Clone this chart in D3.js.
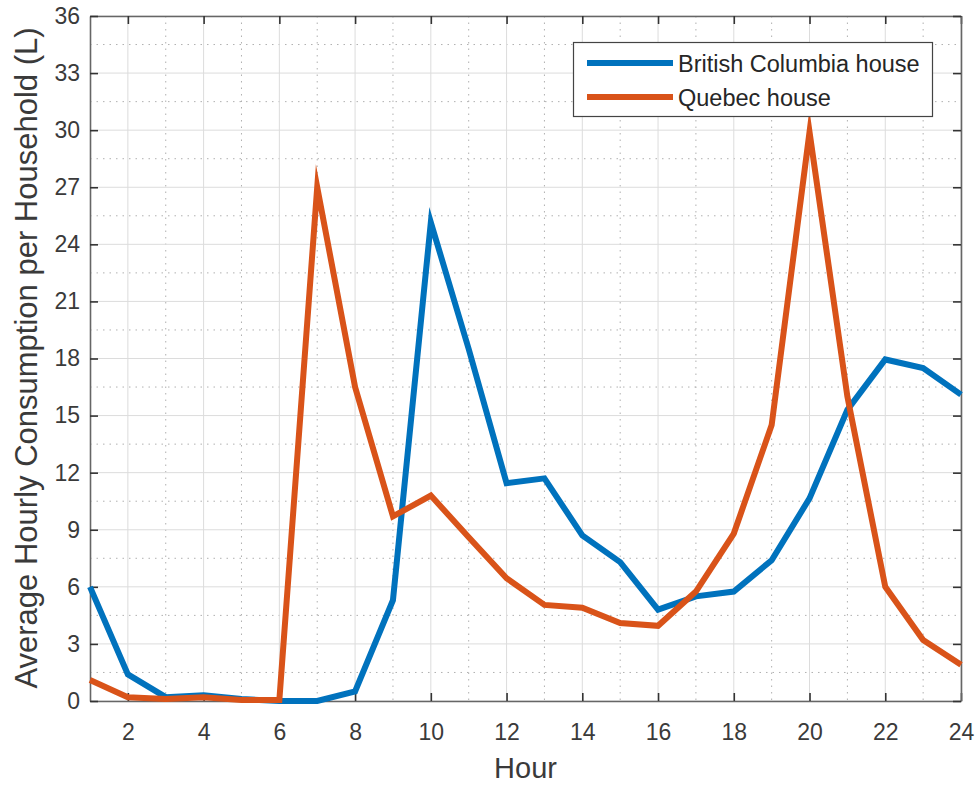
<!DOCTYPE html>
<html><head><meta charset="utf-8">
<script src="https://cdn.jsdelivr.net/npm/d3@7"></script>
<style>
html,body{margin:0;padding:0;background:#fff;}
svg{display:block;font-family:"Liberation Sans",Arial,Helvetica,sans-serif;}
</style></head>
<body><svg id="chart" width="977" height="786"></svg>
<script>
const hours = d3.range(1, 25);
const bcHouse = [6.0,1.4,0.2,0.3,0.1,0.0,0.0,0.5,5.3,25.15,18.5,11.45,11.7,8.7,7.3,4.8,5.5,5.75,7.4,10.65,15.3,17.95,17.5,16.1];
const quebecHouse = [1.1,0.2,0.1,0.2,0.05,0.05,27.0,16.5,9.7,10.8,8.6,6.45,5.05,4.9,4.1,3.95,5.75,8.8,14.5,29.9,16.0,6.0,3.2,1.9];
const seriesNames = ["British Columbia house","Quebec house"];
const seriesColors = ["#0072BD","#D95319"];
const xTicks = [2,4,6,8,10,12,14,16,18,20,22,24];
const xMinor = [3,5,7,9,11,13,15,17,19,21,23];
const yTicks = [0,3,6,9,12,15,18,21,24,27,30,33,36];
const yMinor = [1.5,4.5,7.5,10.5,13.5,16.5,19.5,22.5,25.5,28.5,31.5,34.5];

const svg = d3.select("#chart");
const L=90, R=961, T=16, B=701;
const x = d3.scaleLinear().domain([1,24]).range([L,R]);
const y = d3.scaleLinear().domain([0,36]).range([B,T]);

const g = svg.append("g");
// minor grid
g.selectAll(".xm").data(xMinor).join("line")
  .attr("x1",d=>x(d)).attr("x2",d=>x(d)).attr("y1",T).attr("y2",B)
  .attr("stroke","#b0b0b0").attr("stroke-width",1).attr("stroke-dasharray","1.5,5");
g.selectAll(".ym").data(yMinor).join("line")
  .attr("y1",d=>y(d)).attr("y2",d=>y(d)).attr("x1",L).attr("x2",R)
  .attr("stroke","#b0b0b0").attr("stroke-width",1).attr("stroke-dasharray","1.5,5");
// major grid
g.selectAll(".xg").data(xTicks).join("line")
  .attr("x1",d=>x(d)).attr("x2",d=>x(d)).attr("y1",T).attr("y2",B)
  .attr("stroke","#dcdcdc").attr("stroke-width",1);
g.selectAll(".yg").data(yTicks).join("line")
  .attr("y1",d=>y(d)).attr("y2",d=>y(d)).attr("x1",L).attr("x2",R)
  .attr("stroke","#dcdcdc").attr("stroke-width",1);

// axes with inward ticks
const axCol="#666";
const xb = svg.append("g").attr("transform",`translate(0,${B})`)
  .call(d3.axisBottom(x).tickValues(xTicks).tickSizeInner(-8).tickSizeOuter(0).tickPadding(23));
const xt = svg.append("g").attr("transform",`translate(0,${T})`)
  .call(d3.axisTop(x).tickValues(xTicks).tickSizeInner(-8).tickSizeOuter(0).tickFormat(""));
const yl = svg.append("g").attr("transform",`translate(${L},0)`)
  .call(d3.axisLeft(y).tickValues(yTicks).tickSizeInner(-8).tickSizeOuter(0).tickPadding(10));
const yr = svg.append("g").attr("transform",`translate(${R},0)`)
  .call(d3.axisRight(y).tickValues(yTicks).tickSizeInner(-8).tickSizeOuter(0).tickFormat(""));
[xb,xt,yl,yr].forEach(a=>{
  a.select(".domain").attr("stroke",axCol).attr("stroke-width",1.6);
  a.selectAll(".tick line").attr("stroke","#333").attr("stroke-width",1.6);
  a.selectAll(".tick text").attr("fill","#3a3a3a").style("font-size","23px")
   .style("font-family","'Liberation Sans',Arial,sans-serif");
});

// lines
const line = d3.line().x((d,i)=>x(hours[i])).y(d=>y(d));
[bcHouse, quebecHouse].forEach((s,k)=>{
  svg.append("path").datum(s).attr("d",line).attr("fill","none")
    .attr("stroke",seriesColors[k]).attr("stroke-width",6)
    .attr("stroke-linejoin","miter").attr("stroke-miterlimit",30);
});

// legend
const lg = svg.append("g");
lg.append("rect").attr("x",573.5).attr("y",42.5).attr("width",359).attr("height",74)
  .attr("fill","#fff").attr("stroke","#444").attr("stroke-width",1.2);
seriesNames.forEach((n,i)=>{
  const yy = 63 + i*34;
  lg.append("line").attr("x1",587).attr("x2",673).attr("y1",yy).attr("y2",yy)
    .attr("stroke",seriesColors[i]).attr("stroke-width",6);
  lg.append("text").attr("x",678).attr("y",yy+9).text(n)
    .attr("fill","#262626").style("font-size","23.5px");
});

// labels
svg.append("text").attr("x",(L+R)/2).attr("y",778).attr("text-anchor","middle")
  .attr("fill","#3a3a3a").style("font-size","29px").text("Hour");
svg.append("text").attr("transform",`translate(37,358) rotate(-90)`)
  .attr("text-anchor","middle").attr("fill","#3a3a3a").style("font-size","31px")
  .text("Average Hourly Consumption per Household (L)");
</script></body></html>
